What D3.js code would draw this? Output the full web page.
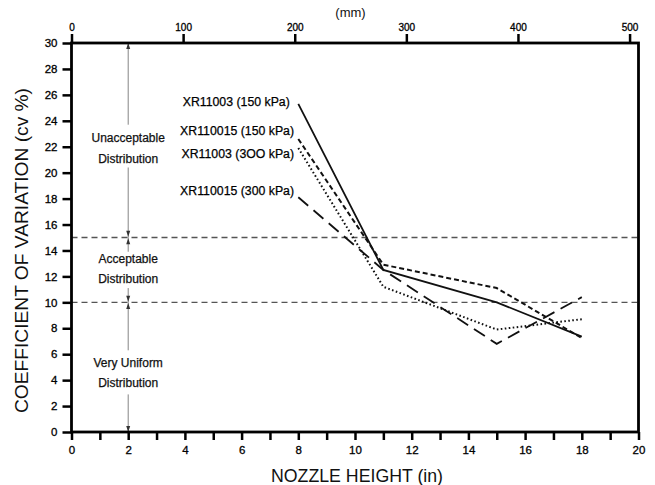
<!DOCTYPE html>
<html>
<head>
<meta charset="utf-8">
<script src="https://cdn.jsdelivr.net/npm/d3@7"></script>
<style>
  html, body { margin: 0; padding: 0; background: #fff; }
  svg { display: block; font-family: "Liberation Sans", Arial, Helvetica, sans-serif; }
</style>
</head>
<body>
<svg id="chart" width="655" height="485"></svg>
<script>
// ---- data ----
const nozzleHeights = [8, 11, 15, 18];              // inches
const cvXR11003_150 = [25.3, 12.5, 10.0, 7.35];
const cvXR110015_150 = [22.6, 12.9, 11.1, 7.25];
const cvXR11003_300 = [21.9, 11.2, 7.9, 8.7];
const cvXR110015_300 = [18.1, 12.5, 6.8, 10.4];
const seriesNames = ["XR11003 (150 kPa)", "XR110015 (150 kPa)", "XR11003 (3OO kPa)", "XR110015 (300 kPa)"];
const xTicksIn = d3.range(0, 21, 1);
const yTicks = d3.range(0, 31, 2);
const mmTicks = [0, 100, 200, 300, 400, 500];
const thresholds = [15, 10];
const regionLabels = [["Unacceptable", "Distribution"], ["Acceptable", "Distribution"], ["Very Uniform", "Distribution"]];

// ---- layout ----
const svg = d3.select("#chart");
const L = 71.5, R = 638.5, T = 43, B = 432;
const x = d3.scaleLinear().domain([0, 20]).range([L, R]);
const y = d3.scaleLinear().domain([0, 30]).range([B, T]);
const xmm = d3.scaleLinear().domain([0, 20 * 25.4]).range([L, R]);

// threshold dashed lines
svg.selectAll("line.thr").data(thresholds).join("line")
  .attr("x1", L).attr("x2", R)
  .attr("y1", d => y(d)).attr("y2", d => y(d))
  .attr("stroke", "#555").attr("stroke-width", 1.3)
  .attr("stroke-dasharray", "6,4");

// region annotation (vertical arrows at x = 2 in)
const ax = x(2);
const segs = [[30, 23.7], [20.4, 15], [15, 13.9], [11.1, 10], [10, 6.3], [2.9, 0]];
svg.selectAll("line.seg").data(segs).join("line")
  .attr("x1", ax).attr("x2", ax)
  .attr("y1", d => y(d[0])).attr("y2", d => y(d[1]))
  .attr("stroke", "#777").attr("stroke-width", 0.9);
const heads = [[30, 1], [15.05, -1], [14.95, 1], [10.05, -1], [9.95, 1], [0, -1]];
svg.selectAll("path.head").data(heads).join("path")
  .attr("d", d => {
    const ty = y(d[0]);
    const by = ty + (d[1] > 0 ? 6 : -6);
    return `M${ax},${ty} L${ax - 2},${by} L${ax + 2},${by} Z`;
  })
  .attr("fill", "#333");

const regionY = [[22.7, 21.1], [13.35, 11.85], [5.3, 3.8]];
regionLabels.forEach((lines, i) => {
  lines.forEach((t, j) => {
    svg.append("text")
      .attr("x", ax).attr("y", y(regionY[i][j]))
      .attr("dy", "0.35em")
      .attr("text-anchor", "middle")
      .attr("font-size", "12px")
      .attr("fill", "#111")
      .attr("stroke", "#111").attr("stroke-width", 0.25)
      .text(t);
  });
});

// series
const seriesValues = [cvXR11003_150, cvXR110015_150, cvXR11003_300, cvXR110015_300];
const dashes = [null, "5,3", "1.6,2.4", "13,7"];
const widths = [1.8, 2.0, 2.0, 1.8];
const line = d3.line().x(d => x(d[0])).y(d => y(d[1]));
seriesValues.forEach((vals, i) => {
  svg.append("path")
    .datum(nozzleHeights.map((h, k) => [h, vals[k]]))
    .attr("d", line)
    .attr("fill", "none")
    .attr("stroke", "#111")
    .attr("stroke-width", widths[i])
    .attr("stroke-dasharray", dashes[i]);
});

// series labels
const labelY = [25.5, 23.2, 21.5, 18.6];
const labelX = [7.7, 7.85, 7.85, 7.85];
seriesNames.forEach((n, i) => {
  svg.append("text")
    .attr("x", x(labelX[i])).attr("y", y(labelY[i]))
    .attr("dy", "0.35em")
    .attr("text-anchor", "end")
    .attr("font-size", "12.3px")
    .attr("fill", "#000")
    .attr("stroke", "#000").attr("stroke-width", 0.25)
    .text(n);
});

// axes
const axisStyle = g => {
  g.select(".domain").remove();
  g.selectAll(".tick line").attr("stroke", "#000").attr("stroke-width", 2.5);
  g.selectAll(".tick text").attr("fill", "#000")
    .attr("stroke", "#000").attr("stroke-width", 0.3)
    .attr("font-family", "'Liberation Sans', Arial, sans-serif");
};
svg.append("g").attr("transform", `translate(0,${B})`)
  .call(d3.axisBottom(x).tickValues(xTicksIn).tickSize(8).tickPadding(6)
    .tickFormat(d => d % 2 === 0 ? d : ""))
  .call(axisStyle)
  .call(g => g.selectAll(".tick text").attr("font-size", "11.5px"));
svg.append("g").attr("transform", `translate(${L},0)`)
  .call(d3.axisLeft(y).tickValues(yTicks).tickSize(9).tickPadding(5))
  .call(axisStyle)
  .call(g => g.selectAll(".tick text").attr("font-size", "11.5px"));
svg.append("g").attr("transform", `translate(0,${T})`)
  .call(d3.axisTop(xmm).tickValues(mmTicks).tickSize(9).tickPadding(3))
  .call(axisStyle)
  .call(g => g.selectAll(".tick text").attr("font-size", "10px"));

// frame
svg.append("rect")
  .attr("x", L).attr("y", T).attr("width", R - L).attr("height", B - T)
  .attr("fill", "none").attr("stroke", "#000").attr("stroke-width", 2.8);

// titles
svg.append("text")
  .attr("x", (L + R) / 2 + 2).attr("y", 475).attr("dy", "0.35em")
  .attr("text-anchor", "middle").attr("font-size", "19px").attr("fill", "#111")
  .attr("textLength", 172).attr("lengthAdjust", "spacingAndGlyphs")
  .text("NOZZLE HEIGHT (in)");
svg.append("text")
  .attr("transform", `translate(22,${(T + B) / 2 + 13}) rotate(-90)`)
  .attr("dy", "0.35em")
  .attr("text-anchor", "middle").attr("font-size", "18.5px").attr("fill", "#111")
  .attr("textLength", 325).attr("lengthAdjust", "spacingAndGlyphs")
  .text("COEFFICIENT OF VARIATION (cv %)");
svg.append("text")
  .attr("x", xmm(250)).attr("y", 12).attr("dy", "0.35em")
  .attr("text-anchor", "middle").attr("font-size", "13px").attr("fill", "#111")
  .text("(mm)");
</script>
</body>
</html>
